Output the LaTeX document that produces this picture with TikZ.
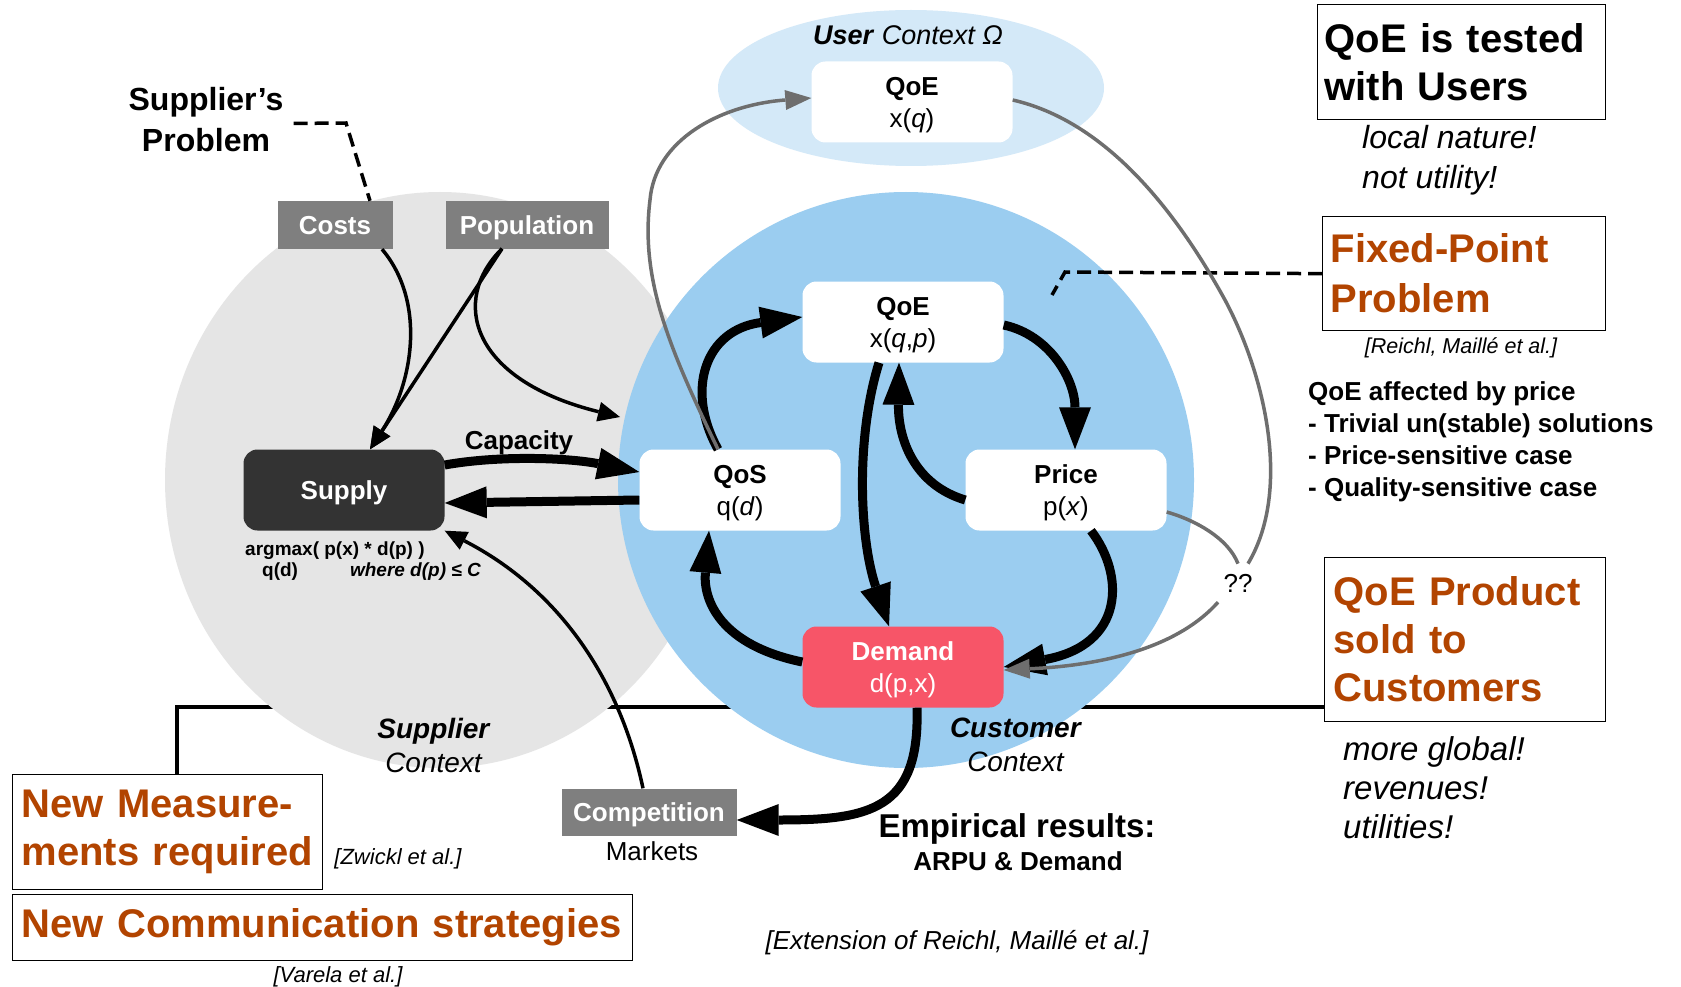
\documentclass[tikz,border=0pt]{standalone}
\usepackage{fontspec}
\setmainfont{Liberation Sans}
\usetikzlibrary{arrows.meta,calc}
\newcommand\myfs[2]{\fontsize{#1pt}{#2pt}\selectfont}
\hyphenpenalty=10000
\definecolor{cgray}{HTML}{E5E5E5}
\definecolor{cblue}{HTML}{9BCDF0}
\definecolor{clight}{HTML}{D4E9F8}
\definecolor{corange}{HTML}{B24400}
\definecolor{cbox}{HTML}{7F7F7F}
\definecolor{cdark}{HTML}{333333}
\definecolor{cred}{HTML}{F75568}
\definecolor{carrow}{HTML}{6E6E6E}
\begin{document}
\begin{tikzpicture}[x=1pt,y=-1pt,
  wbox/.style={fill=white, rounded corners=14pt, minimum width=201pt, minimum height=81pt, inner sep=0pt, text depth=0pt, align=center, font=\myfs{26}{32}},
  gbox/.style={fill=cbox, text=white, inner sep=0pt, text depth=0pt, font=\bfseries\myfs{26}{30}},
  tbox/.style={draw=black, line width=1.3pt, anchor=north west, align=left, font=\bfseries\myfs{40}{48}, inner ysep=0pt},
  bigarr/.style={line width=9pt, -{Triangle[length=42pt,width=32pt,line width=0pt]}},
  thinarr/.style={line width=3.5pt, -{Triangle[length=22pt,width=20pt,line width=0pt]}},
  grayarr/.style={draw=carrow, line width=3.5pt, -{Triangle[length=26pt,width=20pt,line width=0pt]}},
  grayline/.style={draw=carrow, line width=3.5pt},
  dashline/.style={line width=3.5pt, dash pattern=on 14pt off 7pt},
  lbl/.style={inner sep=0pt, anchor=base},
  txt/.style={inner sep=0pt, align=left, anchor=north west}
]
\useasboundingbox (0,0) rectangle (1681,987);
\fill[white] (0,0) rectangle (1681,987);

% framed statements
\node[tbox, text width=274pt, inner xsep=7pt, minimum height=115pt] (qt) at (1317,4) {QoE is tested\\with Users};
\node[tbox, text=corange, font=\bfseries\myfs{40}{50}, text width=267pt, inner xsep=8pt, minimum height=114pt] (fp) at (1322,216) {Fixed-Point\\Problem};
\node[tbox, text=corange, text width=263pt, inner xsep=9pt, minimum height=164pt] (qp) at (1324,557) {QoE Product\\sold to\\Customers};
\node[tbox, text=corange, text width=292pt, inner xsep=9pt, minimum height=115pt] (nm) at (12,774) {New Measure-\\ments required};
\node[tbox, text=corange, text width=602pt, inner xsep=9pt, minimum height=66pt] (nc) at (12,894) {New Communication strategies};

% connecting line (behind the contexts)
\draw[line width=4pt] ([xshift=9pt]nm.north) |- ([yshift=15pt]qp.south west);

% contexts
\fill[cgray] (440,480) ellipse [x radius=275, y radius=288];
\fill[cblue] (906,480) circle [radius=288];
\fill[clight] (911,88) ellipse [x radius=193, y radius=78];

% main nodes
\node[wbox] (qoeq) at (912,102) {\textbf{QoE}\\x(\textit{q})};
\node[wbox] (qoe) at (903,322) {\textbf{QoE}\\x(\textit{q},\textit{p})};
\node[wbox] (qos) at (740,490) {\textbf{QoS}\\q(\textit{d})};
\node[wbox] (price) at (1066,490) {\textbf{Price}\\p(\textit{x})};
\node[wbox, fill=cred, text=white] (demand) at (903,667) {\textbf{Demand}\\d(p,x)};
\node[wbox, fill=cdark, text=white, font=\bfseries\myfs{26}{32}] (supply) at (344,490) {Supply};
\node[gbox, minimum width=115pt, minimum height=48pt] (costs) at (335,225) {Costs};
\node[gbox, minimum width=163pt, minimum height=47pt] (pop) at (527,225) {Population};
\node[gbox, minimum width=175pt, minimum height=47pt] (comp) at (649,812) {Competition};
\node[lbl, font=\myfs{26}{30}] (markets) at (652,860) {Markets};

% labels
\node[lbl, font=\myfs{27}{30}] (uc) at (908,45) {\textbf{\textit{User}} \textit{Context Ω}};
\node[lbl, font=\bfseries\myfs{26}{30}] (cap) at (519,449) {Capacity};
\node[txt, font=\bfseries\myfs{19}{21}] (formula) at (245,542) {argmax( p(x) * d(p) )\\\hspace*{17pt}q(d)\hspace*{52pt}\textit{where d(p) ≤ C}};
\node[inner sep=0pt, anchor=north, align=center, font=\myfs{28}{34}] (sc) at (434,718) {\textbf{\textit{Supplier}}\\\textit{Context}};
\node[inner sep=0pt, anchor=north, align=center, font=\myfs{28}{34}] (cc) at (1016,718) {\textbf{\textit{Customer}}\\\textit{Context}};
\node[inner sep=0pt, anchor=north, align=center, font=\bfseries\myfs{32}{41}] (sp) at (206,87) {Supplier’s\\Problem};
\node[txt, font=\itshape\myfs{32}{40}] (ln) at (1362,125) {local nature!\\not utility!};
\node[lbl, font=\itshape\myfs{21.5}{24}] (ref1) at (1461,353) {[Reichl, Maillé et al.]};
\node[txt, font=\bfseries\myfs{26}{32}] (aff) at (1308,381) {QoE affected by price\\- Trivial un(stable) solutions\\- Price-sensitive case\\- Quality-sensitive case};
\node[txt, font=\itshape\myfs{33}{39}] (mg) at (1343,736) {more global!\\revenues!\\utilities!};
\node[lbl, font=\itshape\myfs{22}{24}] (ref2) at (398,864) {[Zwickl et al.]};
\node[lbl, font=\itshape\myfs{22}{24}] (ref3) at (338,982) {[Varela et al.]};
\node[lbl, font=\itshape\myfs{26}{28}] (ref4) at (957,949) {[Extension of Reichl, Maillé et al.]};
\node[lbl, font=\bfseries\myfs{33}{36}] (emp1) at (1017,837) {Empirical results:};
\node[lbl, font=\bfseries\myfs{26}{30}] (emp2) at (1018,870) {ARPU \& Demand};
\node[lbl, inner sep=10pt, font=\myfs{26}{30}] (qq) at (1238,592) {??};

\coordinate (custtip) at (620,417);
\coordinate (fpend) at (1052,295);

% dashed pointers
\draw[dashline] ([xshift=10pt,yshift=-4pt]sp.east) -- (346,123) -- ([xshift=35pt]costs.north);
\draw[dashline] (fp.west) -- (1065,272) -- (fpend);

% supplier side
\draw[thinarr] ([xshift=47pt]costs.south) .. controls (425,300) and (415,380) .. ([xshift=26pt]supply.north);
\draw[thinarr] ([xshift=-25pt]pop.south) -- ([xshift=26pt]supply.north);
\draw[thinarr] ([xshift=-25pt]pop.south) .. controls (450,300) and (470,380) .. (custtip);
\draw[bigarr] ([yshift=25pt]supply.east) .. controls (500,455) and (570,458) .. ([yshift=18pt]qos.west);
\draw[bigarr] ([yshift=-10pt]qos.west) -- ([yshift=-13pt]supply.east);
\draw[thinarr] ([xshift=-6pt]comp.north) .. controls (620,680) and (560,590) .. (supply.south east);

% customer loop
\draw[bigarr] ([xshift=-22pt]qos.north) .. controls (685,390) and (705,330) .. ([yshift=5pt]qoe.west);
\draw[bigarr] ([yshift=-3pt]qoe.east) .. controls (1050,335) and (1075,380) .. ([xshift=9pt]price.north);
\draw[bigarr] ([yshift=-10pt]price.west) .. controls (915,485) and (898,440) .. ([xshift=-4pt]qoe.south);
\draw[bigarr] ([xshift=-24pt]qoe.south) .. controls (855,440) and (860,540) .. ([xshift=-14pt]demand.north);
\draw[bigarr] ([yshift=5pt]demand.west) .. controls (720,645) and (703,600) .. ([xshift=-31pt]qos.south);
\draw[bigarr] ([xshift=25pt]price.south) .. controls (1125,575) and (1125,645) .. (demand.east);
\draw[bigarr] ([xshift=14pt]demand.south) .. controls (920,810) and (870,820) .. ([yshift=-8pt]comp.east);

% grey user-context links
\draw[grayarr] ([xshift=-22pt]qos.north) .. controls (670,350) and (640,280) .. (650,200) .. controls (655,140) and (720,105) .. ([yshift=4pt]qoeq.west);
\draw[grayline] ([yshift=2pt]qoeq.east) .. controls (1100,120) and (1170,200) .. (1225,300) .. controls (1265,375) and (1292,490) .. ([xshift=10pt]qq.north);
\draw[grayline] ([yshift=-22pt]price.east) .. controls (1195,520) and (1228,538) .. (qq.north);
\draw[grayarr] ([xshift=-20pt]qq.south) .. controls (1180,645) and (1110,665) .. ([yshift=-3pt]demand.east);
\end{tikzpicture}
\end{document}
